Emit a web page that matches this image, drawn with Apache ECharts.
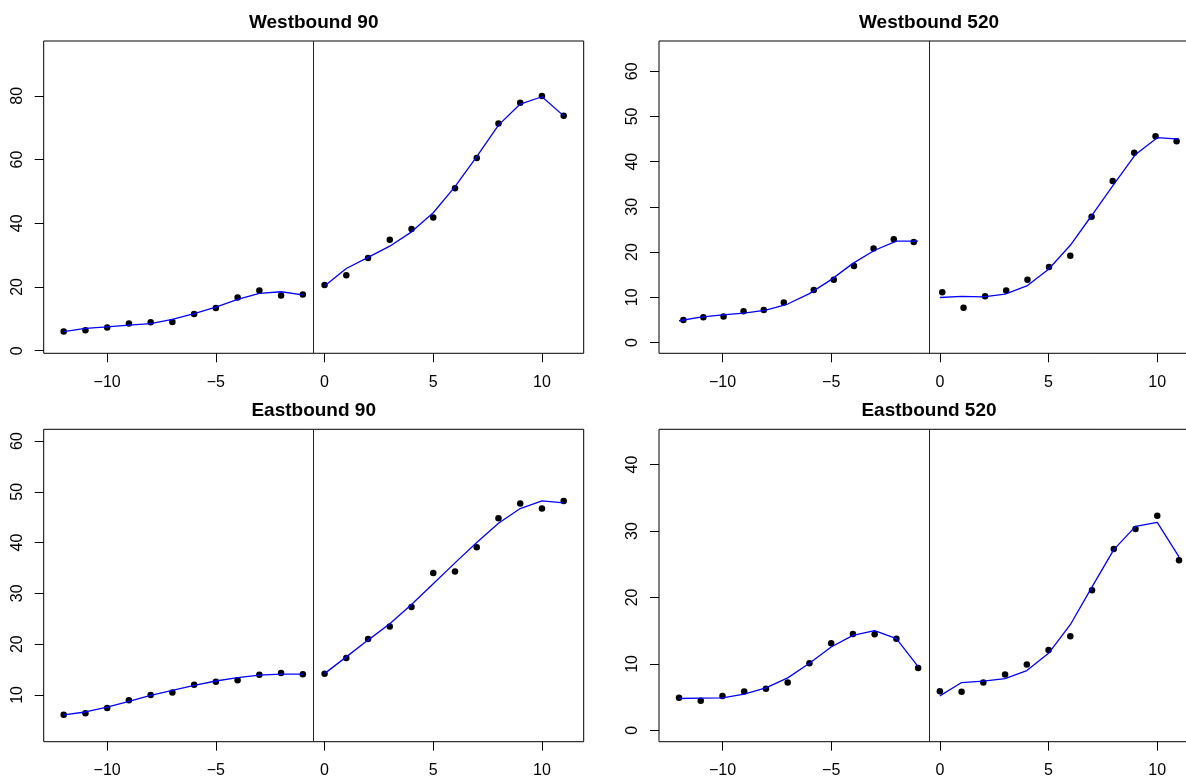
<!DOCTYPE html>
<html>
<head>
<meta charset="utf-8">
<script src="https://cdn.jsdelivr.net/npm/echarts@6/dist/echarts.min.js"></script>
<style>html,body{margin:0;padding:0;background:#fff;overflow:hidden}#c{width:1186px;height:778px}</style>
</head>
<body>
<div id="c"></div>
<script>
// ---- data ----
const months = [-12,-11,-10,-9,-8,-7,-6,-5,-4,-3,-2,-1,0,1,2,3,4,5,6,7,8,9,10,11];
const cutoff = -0.5;
const xTicks = [-10,-5,0,5,10];
const panelTitles = ['Westbound 90','Westbound 520','Eastbound 90','Eastbound 520'];

const w90Obs = [6.0,6.4,7.3,8.5,8.9,9.0,11.5,13.4,16.7,18.9,17.3,17.6, 20.6,23.7,29.1,34.8,38.2,41.8,51.0,60.5,71.3,77.8,79.9,73.7];
const w90Fit = [6.0,7.0,7.5,8.0,8.5,9.8,11.6,13.7,16.1,18.0,18.5,17.5, 20.3,25.8,29.3,32.8,37.3,43.3,51.5,60.9,70.8,77.4,79.7,73.7];
const w90YTicks = [0,20,40,60,80];

const w520ObsX = [-11.8,-10.88,-9.95,-9.03,-8.1,-7.18,-5.8,-4.88,-3.95,-3.05,-2.12,-1.2, 0.11,1.09,2.08,3.05,4.03,5.02,6.0,6.98,7.95,8.94,9.92,10.89];
const w520Obs = [4.95,5.6,5.75,6.9,7.2,8.85,11.6,13.9,16.9,20.8,22.85,22.2, 11.1,7.7,10.2,11.5,13.9,16.7,19.2,27.8,35.7,42.0,45.6,44.5];
const w520Fit = [4.8,5.6,6.1,6.5,7.15,8.5,10.8,13.9,17.5,20.4,22.4,22.4, 9.95,10.2,10.1,10.7,12.5,16.2,21.5,28.2,35.0,41.6,45.3,45.0];
const w520YTicks = [0,10,20,30,40,50,60];

const e90Obs = [6.1,6.4,7.45,8.95,10.0,10.5,12.0,12.6,12.9,14.0,14.3,14.1, 14.2,17.3,21.0,23.5,27.3,34.0,34.3,39.1,44.8,47.7,46.7,48.2];
const e90Fit = [6.1,6.65,7.6,8.75,9.9,10.9,11.9,12.75,13.4,13.9,14.1,14.1, 14.2,17.5,20.8,24.0,27.8,31.9,36.0,40.0,43.8,46.7,48.2,47.8];
const e90YTicks = [10,20,30,40,50,60];

const e520Obs = [4.9,4.46,5.17,5.87,6.27,7.2,10.1,13.1,14.5,14.45,13.8,9.4, 5.9,5.8,7.2,8.4,9.9,12.1,14.15,21.1,27.3,30.3,32.3,25.6];
const e520Fit = [4.8,4.85,4.9,5.45,6.4,7.9,10.1,12.55,14.3,15.0,13.8,9.6, 5.2,7.2,7.4,7.8,9.0,11.6,15.9,21.6,27.2,30.7,31.3,26.1];
const e520YTicks = [0,10,20,30,40];

// ---- layout ----
const xRange = [-12.92, 11.92];
const panels = [
  {title: panelTitles[0], obsX: months, obs: w90Obs, fit: w90Fit, yTicks: w90YTicks, yRange: [-0.82, 97.2],
   grid: {left: 43.7, top: 41, width: 540, height: 312.3}},
  {title: panelTitles[1], obsX: w520ObsX, obs: w520Obs, fit: w520Fit, yTicks: w520YTicks, yRange: [-2.4, 66.7],
   grid: {left: 659, top: 41, width: 540, height: 312.3}},
  {title: panelTitles[2], obsX: months, obs: e90Obs, fit: e90Fit, yTicks: e90YTicks, yRange: [0.8, 62.3],
   grid: {left: 43.7, top: 429.3, width: 540, height: 312.4}},
  {title: panelTitles[3], obsX: months, obs: e520Obs, fit: e520Fit, yTicks: e520YTicks, yRange: [-1.7, 45.3],
   grid: {left: 659, top: 429.3, width: 540, height: 312.4}}
];

const FONT = 'Liberation Sans, Arial, sans-serif';
const fmt = v => String(v).replace('-', '\u2212');

const option = {
  animation: false,
  backgroundColor: '#fff',
  title: [], grid: [], xAxis: [], yAxis: [], series: []
};

panels.forEach((p, i) => {
  option.title.push({
    text: p.title, left: p.grid.left + p.grid.width / 2, top: p.grid.top - 18.6,
    textAlign: 'center', textVerticalAlign: 'middle', padding: 0,
    textStyle: {fontFamily: FONT, fontSize: 19, fontWeight: 'bold', color: '#000'}
  });
  option.grid.push(Object.assign({show: true, borderColor: '#000', borderWidth: 1, backgroundColor: 'transparent',
    containLabel: false, outerBoundsMode: 'none'}, p.grid));
  option.xAxis.push({
    gridIndex: i, type: 'value', min: xRange[0], max: xRange[1],
    splitLine: {show: false},
    axisLine: {show: false, onZero: false},
    axisTick: {show: true, length: 9, customValues: xTicks, lineStyle: {color: '#000', width: 1}},
    axisLabel: {show: true, customValues: xTicks, margin: 21, fontSize: 16, fontFamily: FONT, color: '#000', formatter: fmt}
  });
  option.yAxis.push({
    gridIndex: i, type: 'value', min: p.yRange[0], max: p.yRange[1],
    splitLine: {show: false},
    axisLine: {show: false, onZero: false},
    axisTick: {show: true, length: 9, customValues: p.yTicks, lineStyle: {color: '#000', width: 1}},
    axisLabel: {show: true, customValues: p.yTicks, rotate: 90, margin: 18, fontSize: 16, fontFamily: FONT, color: '#000', formatter: fmt}
  });
  option.series.push({
    type: 'scatter', xAxisIndex: i, yAxisIndex: i, z: 2,
    symbol: 'circle', symbolSize: 6.5,
    itemStyle: {color: '#000', opacity: 1},
    data: p.obsX.map((x, k) => [x, p.obs[k]]),
    markLine: {
      silent: true, symbol: ['none', 'none'], label: {show: false},
      lineStyle: {color: '#222', width: 1, type: 'solid'},
      emphasis: {disabled: true},
      data: [{xAxis: cutoff}]
    }
  });
  const pre = months.map((x, k) => [x, p.fit[k]]).filter(d => d[0] < cutoff);
  const post = months.map((x, k) => [x, p.fit[k]]).filter(d => d[0] > cutoff);
  [pre, post].forEach(seg => {
    option.series.push({
      type: 'line', xAxisIndex: i, yAxisIndex: i, z: 3,
      symbol: 'none', smooth: false,
      lineStyle: {color: '#0000ff', width: 1.3},
      data: seg
    });
  });
});

const chart = echarts.init(document.getElementById('c'), null, {renderer: 'canvas'});
chart.setOption(option);
</script>
</body>
</html>
